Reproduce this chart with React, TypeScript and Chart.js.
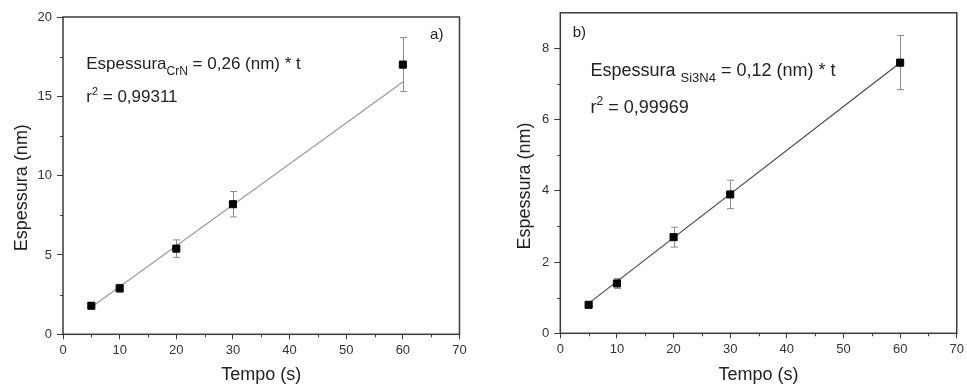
import React, { useEffect, useRef } from "react";
import { Chart, registerables } from "chart.js";

Chart.register(...registerables);

// ---------- data (panel a: CrN) ----------
const tempoA = [5, 10, 20, 30, 60];
const espessuraA = [1.8, 2.9, 5.4, 8.2, 17.0];
const erroA = [0.1, 0.25, 0.55, 0.8, 1.7];
const ajusteTempoA = [5, 60];
const ajusteEspessuraA = [1.7, 15.9];

// ---------- data (panel b: Si3N4) ----------
const tempoB = [5, 10, 20, 30, 60];
const espessuraB = [0.8, 1.4, 2.7, 3.9, 7.6];
const erroB = [0.05, 0.14, 0.28, 0.4, 0.76];
const ajusteTempoB = [5, 60];
const ajusteEspessuraB = [0.84, 7.6];

// ---------- ticks ----------
const xTicks = [0, 10, 20, 30, 40, 50, 60, 70];
const xMinorTicks = [5, 15, 25, 35, 45, 55, 65];
const yTicksA = [0, 5, 10, 15, 20];
const yMinorTicksA = [2.5, 7.5, 12.5, 17.5];
const yTicksB = [0, 2, 4, 6, 8];
const yMinorTicksB = [1, 3, 5, 7];

const FONT = "'Liberation Sans', Arial, Helvetica, sans-serif";

type Panel = {
  x: number[];
  y: number[];
  err: number[];
  fitX: number[];
  fitY: number[];
  fitColor: string;
  yMax: number;
  yTicks: number[];
  yMinor: number[];
  padTop: number;
  padRight: number;
  yWidth: number;
  xHeight: number;
  yTitleX: number;
  yTitleShift: number;
  labelText: string;
  labelPos: [number, number];
  eqMain: string;
  eqSub: string;
  eqRest: string;
  eqPos: [number, number];
  r2Text: string;
  r2Pos: [number, number];
  eqSize: number;
};

function drawSubText(
  ctx: CanvasRenderingContext2D,
  x: number,
  y: number,
  main: string,
  sub: string,
  rest: string,
  size: number
) {
  ctx.font = `${size}px ${FONT}`;
  ctx.fillText(main, x, y);
  let cx = x + ctx.measureText(main).width;
  ctx.font = `${Math.round(size * 0.72)}px ${FONT}`;
  ctx.fillText(sub, cx, y + size * 0.33);
  cx += ctx.measureText(sub).width;
  ctx.font = `${size}px ${FONT}`;
  ctx.fillText(rest, cx, y);
}

function panelPlugin(p: Panel) {
  return {
    id: "panelExtras",
    beforeDatasetsDraw(chart: any) {
      const ctx: CanvasRenderingContext2D = chart.ctx;
      const xs = chart.scales.x;
      const ys = chart.scales.y;
      ctx.save();
      ctx.strokeStyle = "#8c8c8c";
      ctx.lineWidth = 1;
      p.x.forEach((xv, i) => {
        const px = Math.round(xs.getPixelForValue(xv)) + 0.5;
        const top = ys.getPixelForValue(p.y[i] + p.err[i]);
        const bot = ys.getPixelForValue(p.y[i] - p.err[i]);
        ctx.beginPath();
        ctx.moveTo(px, top);
        ctx.lineTo(px, bot);
        ctx.moveTo(px - 3.5, top);
        ctx.lineTo(px + 3.5, top);
        ctx.moveTo(px - 3.5, bot);
        ctx.lineTo(px + 3.5, bot);
        ctx.stroke();
      });
      ctx.restore();
    },
    afterDraw(chart: any) {
      const ctx: CanvasRenderingContext2D = chart.ctx;
      const xs = chart.scales.x;
      const ys = chart.scales.y;
      const a = chart.chartArea;
      ctx.save();
      // frame
      ctx.strokeStyle = "#3a3a3a";
      ctx.lineWidth = 1.5;
      ctx.strokeRect(a.left, a.top, a.right - a.left, a.bottom - a.top);
      // minor ticks
      ctx.lineWidth = 1;
      ctx.beginPath();
      xMinorTicks.forEach((v) => {
        const px = Math.round(xs.getPixelForValue(v)) + 0.5;
        ctx.moveTo(px, a.bottom);
        ctx.lineTo(px, a.bottom + 3);
      });
      p.yMinor.forEach((v) => {
        const py = Math.round(ys.getPixelForValue(v)) + 0.5;
        ctx.moveTo(a.left, py);
        ctx.lineTo(a.left - 3, py);
      });
      ctx.stroke();
      // y axis title
      ctx.fillStyle = "#222";
      ctx.font = `18px ${FONT}`;
      ctx.textAlign = "center";
      ctx.textBaseline = "middle";
      ctx.translate(p.yTitleX, (a.top + a.bottom) / 2 + p.yTitleShift);
      ctx.rotate(-Math.PI / 2);
      ctx.fillText("Espessura (nm)", 0, 0);
      ctx.restore();

      ctx.save();
      ctx.fillStyle = "#222";
      ctx.textAlign = "left";
      ctx.textBaseline = "alphabetic";
      // panel label
      ctx.font = `15px ${FONT}`;
      ctx.fillText(
        p.labelText,
        xs.getPixelForValue(p.labelPos[0]),
        ys.getPixelForValue(p.labelPos[1])
      );
      // equation
      drawSubText(
        ctx,
        xs.getPixelForValue(p.eqPos[0]),
        ys.getPixelForValue(p.eqPos[1]),
        p.eqMain,
        p.eqSub,
        p.eqRest,
        p.eqSize
      );
      // r^2
      const rx = xs.getPixelForValue(p.r2Pos[0]);
      const ry = ys.getPixelForValue(p.r2Pos[1]);
      ctx.font = `${p.eqSize}px ${FONT}`;
      ctx.fillText("r", rx, ry);
      let cx = rx + ctx.measureText("r").width;
      ctx.font = `${Math.round(p.eqSize * 0.65)}px ${FONT}`;
      ctx.fillText("2", cx, ry - p.eqSize * 0.42);
      cx += ctx.measureText("2").width;
      ctx.font = `${p.eqSize}px ${FONT}`;
      ctx.fillText(p.r2Text, cx, ry);
      ctx.restore();
    },
  };
}

function makeConfig(p: Panel): any {
  return {
    type: "scatter",
    data: {
      datasets: [
        {
          label: "Espessura",
          data: p.x.map((x, i) => ({ x, y: p.y[i] })),
          pointStyle: "rect",
          pointRadius: 5,
          backgroundColor: "#000",
          borderColor: "#000",
          borderWidth: 1,
        },
        {
          label: "Ajuste linear",
          data: p.fitX.map((x, i) => ({ x, y: p.fitY[i] })),
          showLine: true,
          borderColor: p.fitColor,
          borderWidth: 1.2,
          pointRadius: 0,
          fill: false,
        },
      ],
    },
    options: {
      animation: false,
      responsive: false,
      maintainAspectRatio: false,
      layout: { padding: { left: 0, right: p.padRight, top: p.padTop, bottom: 0 } },
      plugins: { legend: { display: false }, tooltip: { enabled: false } },
      scales: {
        x: {
          type: "linear",
          min: 0,
          max: 70,
          afterBuildTicks: (s: any) => {
            s.ticks = xTicks.map((v) => ({ value: v }));
          },
          afterFit: (s: any) => {
            s.height = p.xHeight;
          },
          grid: {
            drawOnChartArea: false,
            drawTicks: true,
            tickLength: 5,
            tickColor: "#3a3a3a",
            lineWidth: 1,
          },
          border: { display: false },
          ticks: {
            color: "#333",
            font: { family: FONT, size: 13 },
            padding: 3,
            maxRotation: 0,
            autoSkip: false,
          },
          title: {
            display: true,
            text: "Tempo (s)",
            color: "#222",
            font: { family: FONT, size: 18 },
            padding: { top: 0, bottom: 1 },
          },
        },
        y: {
          type: "linear",
          min: 0,
          max: p.yMax,
          afterBuildTicks: (s: any) => {
            s.ticks = p.yTicks.map((v) => ({ value: v }));
          },
          afterFit: (s: any) => {
            s.width = p.yWidth;
          },
          grid: {
            drawOnChartArea: false,
            drawTicks: true,
            tickLength: 6,
            tickColor: "#3a3a3a",
            lineWidth: 1,
          },
          border: { display: false },
          ticks: {
            color: "#333",
            font: { family: FONT, size: 13 },
            padding: 5,
            autoSkip: false,
          },
          title: { display: false },
        },
      },
    },
    plugins: [panelPlugin(p)],
  };
}

const panelA: Panel = {
  x: tempoA,
  y: espessuraA,
  err: erroA,
  fitX: ajusteTempoA,
  fitY: ajusteEspessuraA,
  fitColor: "#9a9a9a",
  yMax: 20,
  yTicks: yTicksA,
  yMinor: yMinorTicksA,
  padTop: 17,
  padRight: 27.5,
  yWidth: 63,
  xHeight: 52.7,
  yTitleX: 22,
  yTitleShift: 12,
  labelText: "a)",
  labelPos: [64.8, 18.6],
  eqMain: "Espessura",
  eqSub: "CrN",
  eqRest: " = 0,26 (nm) * t",
  eqPos: [4.1, 16.7],
  r2Text: " = 0,99311",
  r2Pos: [4.1, 14.64],
  eqSize: 17,
};

const panelB: Panel = {
  x: tempoB,
  y: espessuraB,
  err: erroB,
  fitX: ajusteTempoB,
  fitY: ajusteEspessuraB,
  fitColor: "#4a4a4a",
  yMax: 9,
  yTicks: yTicksB,
  yMinor: yMinorTicksB,
  padTop: 9,
  padRight: 7.3,
  yWidth: 73.3,
  xHeight: 53.7,
  yTitleX: 38,
  yTitleShift: 13,
  labelText: "b)",
  labelPos: [2.2, 8.33],
  eqMain: "Espessura ",
  eqSub: "Si3N4",
  eqRest: " = 0,12 (nm) * t",
  eqPos: [5.33, 7.22],
  r2Text: " = 0,99969",
  r2Pos: [5.33, 6.2],
  eqSize: 18,
};

export default function App() {
  const refA = useRef<HTMLCanvasElement | null>(null);
  const refB = useRef<HTMLCanvasElement | null>(null);

  useEffect(() => {
    const charts: Chart[] = [];
    if (refA.current) charts.push(new Chart(refA.current, makeConfig(panelA)));
    if (refB.current) charts.push(new Chart(refB.current, makeConfig(panelB)));
    return () => charts.forEach((c) => c.destroy());
  }, []);

  return (
    <div
      style={{
        position: "fixed",
        left: 0,
        top: 0,
        width: 967,
        height: 387,
        background: "#fff",
        overflow: "hidden",
      }}
    >
      <canvas
        ref={refA}
        width={487}
        height={387}
        style={{ position: "absolute", left: 0, top: 0, width: 487, height: 387 }}
      />
      <canvas
        ref={refB}
        width={480}
        height={387}
        style={{ position: "absolute", left: 487, top: 0, width: 480, height: 387 }}
      />
    </div>
  );
}
